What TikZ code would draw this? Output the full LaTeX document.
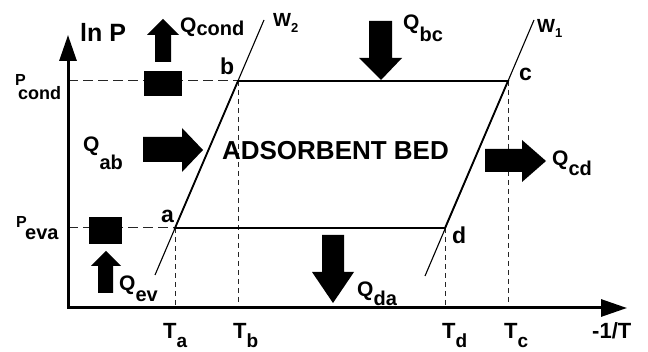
\documentclass[tikz,border=0pt]{standalone}
\usepackage{fontspec}
\setmainfont{Liberation Sans}
\usetikzlibrary{arrows.meta}
\newcommand\fs[1]{\fontsize{#1}{#1}\selectfont}
\newcommand\lowsub[3]{\lower#1\hbox{\fs{#2}#3}}
\begin{document}
\begin{tikzpicture}[x=1pt,y=-1pt,
  axtip/.tip={Triangle[length=26pt,width=17pt]},
  axis/.style={line width=3pt,axtip-axtip},
  cyc/.style={line width=1.8pt,line cap=round},
  wline/.style={line width=1.1pt},
  hdash/.style={line width=1pt,dash pattern=on 10pt off 5pt,black!85},
  vdash/.style={line width=0.8pt,dash pattern=on 5pt off 4pt,black!85},
  blk/.style={fill=black},
  lbl/.style={inner sep=0pt,anchor=base west,font=\bfseries\fs{21}},
  ptl/.style={inner sep=0pt,anchor=base west,font=\bfseries\fs{23}},
  tlbl/.style={inner sep=0pt,anchor=base west,font=\bfseries\fs{22}}]
\useasboundingbox (0,0) rectangle (648,352);
% points
\coordinate (O) at (68,308);
\coordinate (Ytop) at (68,35);
\coordinate (Xend) at (627,308);
\coordinate (a) at (175,228);
\coordinate (b) at (238,81);
\coordinate (c) at (508,81);
\coordinate (d) at (445,228);
\coordinate (w2s) at (155,275);
\coordinate (w2e) at (264,20);
\coordinate (w1s) at (425,276);
\coordinate (w1e) at (534,20);
\coordinate (ta) at (175,308);
\coordinate (tb) at (238,308);
\coordinate (td) at (445,308);
\coordinate (tc) at (508,308);
\coordinate (pc) at (68,81);
\coordinate (pe) at (68,228);
% dashed guides
\draw[hdash] (pc) -- (b);
\draw[hdash] (pe) -- (a);
\draw[vdash] (a) -- (ta);
\draw[vdash] (b) -- (tb);
\draw[vdash] (d) -- (td);
\draw[vdash] (c) -- (tc);
% axes
\draw[axis] (Ytop) -- (O) -- (Xend);
% isosteres
\draw[wline] (w2s) -- (w2e);
\draw[wline] (w1s) -- (w1e);
% cycle
\draw[cyc] (a) -- (b) -- (c) -- (d) -- cycle;
% boxes
\fill[blk] (144,71) rectangle (182,96);
\fill[blk] (89,217) rectangle (122,244);
% block arrows
\fill[blk] (155,62) -- (171,62) -- (171,35) -- (179,35) -- (163,19) -- (147,35) -- (155,35) -- cycle;
\fill[blk] (369,21) -- (392,21) -- (392,58) -- (402,58) -- (381,80) -- (359,58) -- (369,58) -- cycle;
\fill[blk] (143,137) -- (182,137) -- (182,128) -- (203,150) -- (182,172) -- (182,162) -- (143,162) -- cycle;
\fill[blk] (485,149) -- (522,149) -- (522,140) -- (546,161) -- (522,182) -- (522,172) -- (485,172) -- cycle;
\fill[blk] (322,235) -- (344,235) -- (344,272) -- (354,272) -- (333,303) -- (312,272) -- (322,272) -- cycle;
\fill[blk] (98,293) -- (113,293) -- (113,266) -- (121,266) -- (106,251) -- (91,266) -- (98,266) -- cycle;
% labels
\node[inner sep=0pt,anchor=base west,font=\bfseries\fs{25}] (lnp) at (80,42) {ln P};
\node[lbl] (qcond) at (180,33) {Q\lowsub{3pt}{20}{cond}};
\node[lbl] (qbc) at (403,30) {Q\lowsub{12pt}{20}{bc}};
\node[lbl] (qab) at (83,152) {Q\lowsub{18pt}{20}{ab}};
\node[lbl] (qcd) at (552,166) {Q\lowsub{10pt}{20}{cd}};
\node[lbl] (qda) at (357,297) {Q\lowsub{9pt}{20}{da}};
\node[lbl] (qev) at (119,291) {Q\lowsub{11pt}{20}{ev}};
\node[inner sep=0pt,anchor=base west,font=\bfseries\fs{19}] (w2) at (273,27) {W\lowsub{6pt}{13}{2}};
\node[inner sep=0pt,anchor=base west,font=\bfseries\fs{19}] (w1) at (537,33) {W\lowsub{5pt}{13}{1}};
\node[ptl] (lb) at (220,75) {b};
\node[ptl] (lc) at (519,81) {c};
\node[ptl] (la) at (161,223) {a};
\node[ptl] (ld) at (452,244) {d};
\node[inner sep=0pt,anchor=base west,font=\bfseries\fs{16}] (lpc) at (15,86) {P\kern-7.7pt\lowsub{14pt}{18}{cond}};
\node[inner sep=0pt,anchor=base west,font=\bfseries\fs{16}] (lpe) at (16,228) {P\kern-1.7pt\lowsub{12pt}{20}{eva}};
\node[tlbl] (lta) at (163,339) {T\lowsub{9pt}{19}{a}};
\node[tlbl] (ltb) at (233,339) {T\lowsub{9pt}{19}{b}};
\node[tlbl] (ltd) at (442,339) {T\lowsub{9pt}{19}{d}};
\node[tlbl] (ltc) at (504,339) {T\lowsub{9pt}{19}{c}};
\node[tlbl] (lx) at (592,339) {-1/T};
\node[inner sep=0pt,anchor=base,font=\bfseries\fs{26}] (bed) at (335.5,160) {ADSORBENT BED};
\end{tikzpicture}
\end{document}
